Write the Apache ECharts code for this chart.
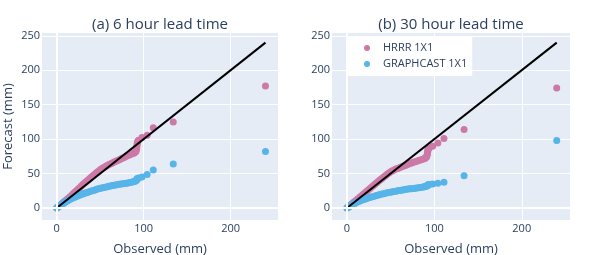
<!DOCTYPE html>
<html><head><meta charset="utf-8">
<script src="https://cdn.jsdelivr.net/npm/echarts@6/dist/echarts.min.js"></script>
<style>html,body{margin:0;padding:0;background:#fff}#c{width:595px;height:255px}</style>
</head><body><div id="c"></div>
<script>
// Observed quantiles (mm), shared by both lead times
const observed = [0,1,2,3,4,5,6,7,8,9,10,12,14,16,18,20,22,24,26,28,30,32,34,36,38,40,42,44,46,48,50,52,54,56,58,60,62,64,66,68,70,72,74,76,78,80,82,84,86,88,89,90,91,91.5,92,92,92.5,92.5,93,94,98,104,111,134,240];
// (a) 6 hour lead time forecast quantiles
const hrrr6 = [0,1,2,3,4,5,6.2,7.3,8.4,9.5,10.6,12.8,15,17.2,19.6,22,24.4,26.8,29.2,31.6,34,36.3,38.6,40.8,43,45.2,47.3,49.4,51.5,53.5,55.4,57.2,58.8,60.3,61.7,63,64.2,65.4,66.6,67.8,69,70.2,71.4,72.6,73.8,75,76.2,77.3,78.4,79.5,80,80.8,82,84,86.5,89,91.5,94,96.5,98.5,102.5,105.5,116.5,125,177];
const graphcast6 = [0,1,2,2.9,3.8,4.7,5.5,6.3,7.1,8,8.8,10.2,11.6,12.9,14.2,15.4,16.5,17.6,18.6,19.6,20.5,21.4,22.2,23,23.8,24.7,25.5,26.3,27.1,27.8,28.5,29.1,29.7,30.3,30.9,31.5,32,32.5,33,33.5,34,34.4,34.8,35.2,35.6,36,36.4,36.9,37.4,38,38.5,39,39.7,40.3,41,41.5,42,42.5,43,43.5,45,48.5,55,64,82];
// (b) 30 hour lead time forecast quantiles
const hrrr30 = [0,1,2,3,4,5,6.1,7.2,8.2,9.3,10.4,12.6,14.8,16.9,19.1,21.3,23.5,25.7,27.9,30.1,32.3,34.5,36.7,38.8,40.9,43,45,47,48.9,50.8,52.5,54,55.3,56.5,57.5,58.5,59.5,60.5,61.5,62.5,63.5,64.5,65.4,66.3,67.2,68,68.8,69.6,70.4,71.4,72,73,74.2,76,78,80,82,84,85.5,87,89.5,94.5,101,114,174];
const graphcast30 = [0,0.9,1.8,2.6,3.4,4.1,4.8,5.5,6.2,6.9,7.5,8.7,9.8,10.9,11.9,12.8,13.6,14.4,15.2,16,16.7,17.4,18.1,18.8,19.5,20.2,20.8,21.4,22,22.5,23,23.5,24,24.5,25,25.5,25.9,26.3,26.7,27.1,27.5,27.8,28.1,28.4,28.7,29,29.4,29.8,30.2,30.7,31,31.4,31.8,32.2,32.5,32.8,33,33.3,33.6,34,35,35.8,37.5,47,98];
// 1:1 reference line end points
const diagonal = [0, 240];
// Tick labels
const xTicks = [0, 100, 200];
const yTicks = [0, 50, 100, 150, 200, 250];
const seriesNames = ['HRRR 1X1', 'GRAPHCAST 1X1'];
const panelTitles = ['(a) 6 hour lead time', '(b) 30 hour lead time'];

const pink = '#cc79a7', blue = '#56b4e9', txt = '#2a3f5f', font = 'Open Sans';
const zip = (a, b) => a.map((v, i) => [v, b[i]]);

function xAx(i) {
  return {
    type: 'value', gridIndex: i, min: i === 0 ? -16.9 : -17.1, max: i === 0 ? 254.4 : 255.2,
    axisLine: {show: false}, axisTick: {show: false, customValues: xTicks},
    splitLine: {show: true, lineStyle: {color: '#ffffff', width: 1}},
    axisLabel: {customValues: xTicks, fontSize: 11, color: txt, fontFamily: font, margin: 3},
    name: 'Observed (mm)', nameLocation: 'middle', nameGap: 23,
    nameTextStyle: {fontSize: 13, color: txt, fontFamily: font}
  };
}
function yAx(i) {
  const o = {
    type: 'value', gridIndex: i, min: -17.4, max: 254,
    axisLine: {show: false}, axisTick: {show: false, customValues: yTicks},
    splitLine: {show: true, lineStyle: {color: '#ffffff', width: 1}},
    axisLabel: {customValues: yTicks, fontSize: 11, color: txt, fontFamily: font, margin: 2}
  };
  if (i === 0) {
    o.name = 'Forecast (mm)'; o.nameLocation = 'middle'; o.nameGap = 27;
    o.nameTextStyle = {fontSize: 13, color: txt, fontFamily: font};
  }
  return o;
}
function zeroLines(i) {
  return {type: 'scatter', xAxisIndex: i, yAxisIndex: i, data: [], z: 1, silent: true,
    markLine: {silent: true, symbol: 'none', animation: false, label: {show: false},
      lineStyle: {color: '#ffffff', width: 2, type: 'solid'},
      data: [{xAxis: 0}, {yAxis: 0}]}};
}
function scat(i, name, color, fc) {
  return {type: 'scatter', name: name, xAxisIndex: i, yAxisIndex: i, z: 2,
    data: zip(observed, fc), symbolSize: 7, itemStyle: {color: color, opacity: 1}};
}
function diag(i) {
  return {type: 'line', xAxisIndex: i, yAxisIndex: i, z: 3, symbol: 'none', silent: true,
    data: zip(diagonal, diagonal), lineStyle: {color: '#000', width: 2}};
}

const chart = echarts.init(document.getElementById('c'), null, {renderer: 'canvas'});
chart.setOption({
  animation: false,
  backgroundColor: '#ffffff',
  textStyle: {fontFamily: font},
  title: [
    {text: panelTitles[0], left: 160, top: 17, textAlign: 'center', padding: 0,
     textStyle: {fontSize: 15, fontWeight: 'normal', color: txt, fontFamily: font}},
    {text: panelTitles[1], left: 451, top: 17, textAlign: 'center', padding: 0,
     textStyle: {fontSize: 15, fontWeight: 'normal', color: txt, fontFamily: font}}
  ],
  legend: {
    data: seriesNames, orient: 'vertical', left: 348, top: 36,
    backgroundColor: '#ffffff', padding: [5, 5, 5, 16],
    icon: 'circle', itemWidth: 6, itemHeight: 6, itemGap: 2,
    textStyle: {fontSize: 11, color: txt, fontFamily: font, lineHeight: 14, padding: [0, 0, 0, 8]}
  },
  grid: [
    {left: 42, top: 33, width: 236, height: 187, show: true, backgroundColor: '#e5ecf6', borderWidth: 0,
     containLabel: false, outerBoundsMode: 'none'},
    {left: 332, top: 33, width: 238, height: 187, show: true, backgroundColor: '#e5ecf6', borderWidth: 0,
     containLabel: false, outerBoundsMode: 'none'}
  ],
  xAxis: [xAx(0), xAx(1)],
  yAxis: [yAx(0), yAx(1)],
  series: [
    zeroLines(0), zeroLines(1),
    scat(0, seriesNames[0], pink, hrrr6), scat(0, seriesNames[1], blue, graphcast6), diag(0),
    scat(1, seriesNames[0], pink, hrrr30), scat(1, seriesNames[1], blue, graphcast30), diag(1)
  ]
});
</script>
</body></html>
